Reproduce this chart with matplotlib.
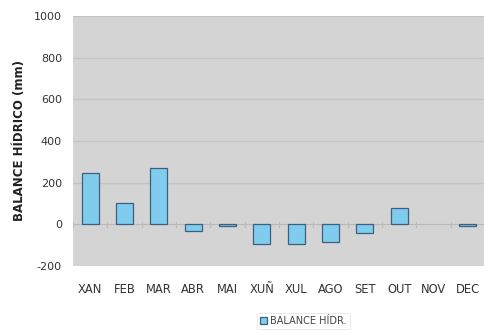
import matplotlib.pyplot as plt
import numpy as np

plt.rcParams['axes.unicode_minus'] = False

# ============== DATA ==============
months = ['XAN', 'FEB', 'MAR', 'ABR', 'MAI', 'XUÑ', 'XUL', 'AGO', 'SET', 'OUT', 'NOV', 'DEC']
balance = [246, 102, 269, -30, -10, -96, -96, -85, -43, 77, 0, -10]
yticks = [-200, 0, 200, 400, 600, 800, 1000]

# ============== PLOT ==============
fig = plt.figure(figsize=(4.85, 3.3), dpi=100)
ax = fig.add_axes([0.1505, 0.194, 0.8495, 0.758])
ax.set_facecolor('#d4d4d4')

x = np.arange(len(months))
# zero bars get no outline (nothing visible in the original)
edges = ['#3d5f7e' if v != 0 else 'none' for v in balance]
ax.bar(x, balance, width=0.5, color='#80ccee', edgecolor=edges, linewidth=0.9,
       label='BALANCE HÍDR.', zorder=3)

# gridlines + zero line
for t in yticks[2:]:
    ax.axhline(t, color='#c4c4c4', linewidth=1.0, zorder=1)
ax.axhline(0, color='#b8b8b8', linewidth=0.8, zorder=2)
# small category separators on the zero line
for b in np.arange(len(months) + 1) - 0.5:
    ax.plot([b, b], [-12, 12], color='#bdbdbd', linewidth=0.8, zorder=2)

ax.set_xlim(-0.5, len(months) - 0.5)
ax.set_ylim(-200, 1000)
ax.set_yticks(yticks)
ax.set_xticks(x)
ax.set_xticklabels(months)
ax.tick_params(axis='both', length=0, colors='#333333')
ax.tick_params(axis='x', pad=12, labelsize=8.3)
ax.tick_params(axis='y', pad=8, labelsize=8)
for s in ax.spines.values():
    s.set_visible(False)

ax.set_ylabel('BALANCE HÍDRICO (mm)', fontsize=8.5, fontweight='bold', color='#222222', labelpad=6)

leg = fig.legend(loc='center', bbox_to_anchor=(0.625, 0.028), fontsize=7, frameon=True,
                 handlelength=0.8, handleheight=0.8, handletextpad=0.3, borderpad=0.3)
leg.get_frame().set_edgecolor('#e0e0e0')
leg.get_frame().set_linewidth(0.6)
for t in leg.get_texts():
    t.set_color('#444444')

plt.savefig('out.png', dpi=100)
